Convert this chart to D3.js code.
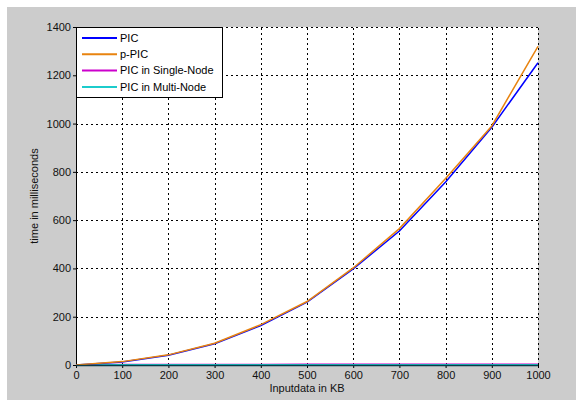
<!DOCTYPE html>
<html lang="en">
<head>
<meta charset="UTF-8">
<title>PIC timing</title>
<script src="https://cdnjs.cloudflare.com/ajax/libs/d3/7.8.5/d3.min.js"></script>
<style>
  body { margin: 0; background: #fff; }
  svg { display: block; font-family: "Liberation Sans", Arial, sans-serif; }
</style>
</head>
<body>
<div id="chart"></div>
<script>
  // data
  const inputKB = [0, 100, 200, 300, 400, 500, 600, 700, 800, 900, 1000];
  const picValues = [0, 12, 40, 88, 163, 260, 398, 555, 758, 985, 1252];
  const pPicValues = [0, 14, 42, 90, 167, 263, 402, 565, 772, 990, 1320];
  const singleNodeValues = [0, 2, 2, 2, 2, 3, 3, 3, 3, 3, 3];
  const multiNodeValues = [0, 1, 1, 1, 1, 1, 1, 1, 1, 1, 1];
  const seriesNames = ["PIC", "p-PIC", "PIC in Single-Node", "PIC in Multi-Node"];
  const seriesColors = ["#0000ff", "#e8830f", "#cc00cc", "#1ccccc"];
  const xTicks = [0, 100, 200, 300, 400, 500, 600, 700, 800, 900, 1000];
  const yTicks = [0, 200, 400, 600, 800, 1000, 1200, 1400];

  const width = 576, height = 400;
  const margin = { top: 27, right: 38, bottom: 35, left: 76 };

  const svg = d3.select("#chart").append("svg")
      .attr("width", width)
      .attr("height", height);

  // grey figure background
  svg.append("rect")
      .attr("x", 7).attr("y", 7)
      .attr("width", width - 7).attr("height", height - 7)
      .attr("fill", "#cccccc");

  const x = d3.scaleLinear([0, 1000], [margin.left, width - margin.right]);
  const y = d3.scaleLinear([0, 1400], [height - margin.bottom, margin.top]);

  svg.append("rect")
      .attr("x", x(0)).attr("y", y(1400))
      .attr("width", x(1000) - x(0)).attr("height", y(0) - y(1400))
      .attr("fill", "#fff");

  // dotted grid
  const grid = svg.append("g")
      .attr("stroke", "#000")
      .attr("stroke-width", 1)
      .attr("stroke-dasharray", "2,3")
      .attr("shape-rendering", "crispEdges");
  grid.selectAll(".gx").data(xTicks.slice(1)).join("line")
      .attr("x1", d => Math.round(x(d)) + 0.5).attr("x2", d => Math.round(x(d)) + 0.5)
      .attr("y1", y(0)).attr("y2", y(1400));
  grid.selectAll(".gy").data(yTicks.slice(1)).join("line")
      .attr("x1", x(0)).attr("x2", x(1000))
      .attr("y1", d => Math.round(y(d)) + 0.5).attr("y2", d => Math.round(y(d)) + 0.5);

  // axes
  const fmt = d3.format("d");
  const xAxis = svg.append("g")
      .attr("transform", `translate(0,${y(0)})`)
      .call(d3.axisBottom(x).tickValues(xTicks).tickFormat(fmt).tickSizeInner(3).tickSizeOuter(0).tickPadding(3));
  const yAxis = svg.append("g")
      .attr("transform", `translate(${x(0)},0)`)
      .call(d3.axisLeft(y).tickValues(yTicks).tickFormat(fmt).tickSizeInner(3).tickSizeOuter(0).tickPadding(2));
  [xAxis, yAxis].forEach(g => {
    g.selectAll("text").attr("font-size", 11).attr("fill", "#111").attr("font-family", "Liberation Sans, Arial, sans-serif");
    g.select(".domain").attr("stroke", "#000");
  });

  // series lines
  const allSeries = [picValues, pPicValues, singleNodeValues, multiNodeValues];
  const line = d3.line()
      .x((d, i) => x(inputKB[i]))
      .y(d => y(d));
  const drawOrder = [2, 3, 0, 1];
  svg.append("g")
      .selectAll("path")
      .data(drawOrder)
      .join("path")
      .attr("fill", "none")
      .attr("stroke", i => seriesColors[i])
      .attr("stroke-width", 1.5)
      .attr("d", i => line(allSeries[i]));

  // re-draw the x axis line over the flat series
  svg.append("line")
      .attr("x1", x(0)).attr("x2", x(1000))
      .attr("y1", y(0) + 0.5).attr("y2", y(0) + 0.5)
      .attr("stroke", "#0a3a4a").attr("stroke-width", 1.5);

  // axis titles
  svg.append("text")
      .attr("x", (x(0) + x(1000)) / 2).attr("y", 392)
      .attr("text-anchor", "middle")
      .attr("font-size", 11).attr("fill", "#111")
      .text("Inputdata in KB");
  svg.append("text")
      .attr("transform", `translate(38,${(y(0) + y(1400)) / 2}) rotate(-90)`)
      .attr("text-anchor", "middle")
      .attr("font-size", 11).attr("fill", "#111")
      .text("time in milliseconds");

  // legend
  const legend = svg.append("g").attr("transform", `translate(${x(0)},${y(1400)})`);
  legend.append("rect")
      .attr("x", 0.5).attr("y", 0.5)
      .attr("width", 146).attr("height", 70)
      .attr("fill", "#fff").attr("stroke", "#000");
  const item = legend.selectAll(".item").data(seriesNames).join("g")
      .attr("transform", (d, i) => `translate(0,${11 + i * 16.3})`);
  item.append("line")
      .attr("x1", 6).attr("x2", 41)
      .attr("stroke", (d, i) => seriesColors[i])
      .attr("stroke-width", 2);
  item.append("text")
      .attr("x", 44).attr("dy", "0.35em")
      .attr("font-size", 11).attr("fill", "#000")
      .text(d => d);
</script>
</body>
</html>
